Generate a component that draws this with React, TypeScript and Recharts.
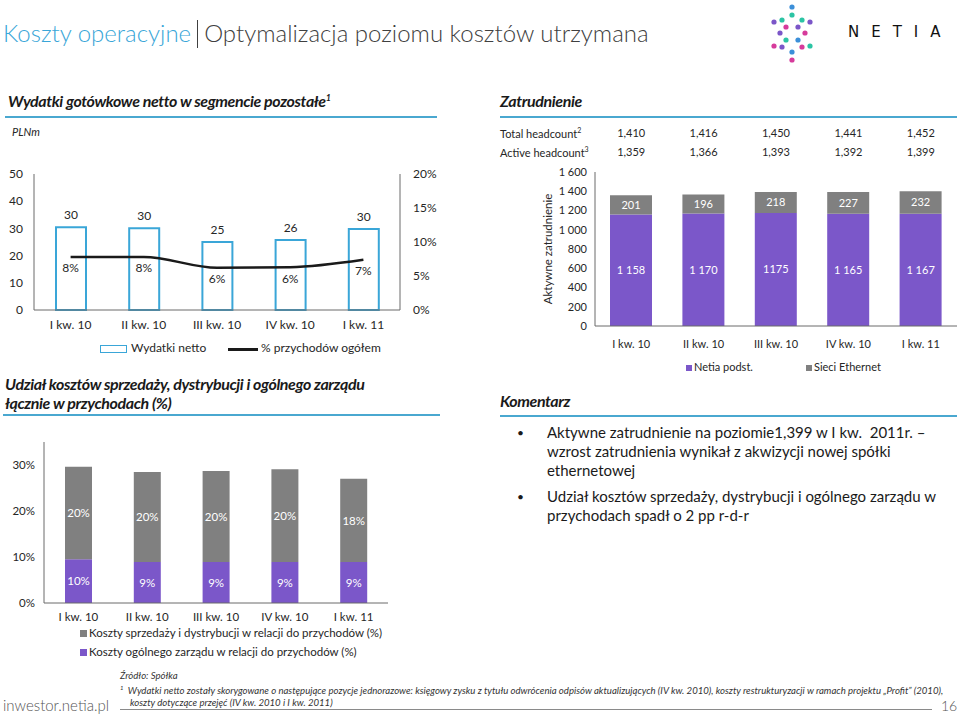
import React from 'react';
import { ComposedChart, BarChart, Bar, Line, XAxis, YAxis, LabelList, Legend } from 'recharts';

// ---------- data ----------
const quarters = ['I kw. 10', 'II kw. 10', 'III kw. 10', 'IV kw. 10', 'I kw. 11'];

const wydatkiNetto = [30.4, 30.1, 25.0, 25.7, 29.8];
const przychodyPct = [7.8, 7.8, 6.2, 6.3, 7.4];
const wydatkiTicks = [0, 10, 20, 30, 40, 50];
const pctTicks = [0, 5, 10, 15, 20];

const netiaPodst = [1158, 1170, 1175, 1165, 1167];
const netiaLabels = ['1 158', '1 170', '1175', '1 165', '1 167'];
const sieciEthernet = [201, 196, 218, 227, 232];
const totalHeadcount = [1410, 1416, 1450, 1441, 1452];
const activeHeadcount = [1359, 1366, 1393, 1392, 1399];
const headcountTicks = [0, 200, 400, 600, 800, 1000, 1200, 1400, 1600];

const kosztySprzedazy = [20.1, 19.6, 19.8, 20.2, 18.1];
const kosztyZarzadu = [9.5, 8.9, 8.9, 8.9, 8.9];
const udzialTicks = [0, 10, 20, 30];

const wydatkiData = quarters.map((q, i) => ({ q, netto: wydatkiNetto[i], pct: przychodyPct[i] }));
const zatrudnienieData = quarters.map((q, i) => ({
  q,
  netia: netiaPodst[i],
  netiaLabel: netiaLabels[i],
  ethernet: sieciEthernet[i],
  total: totalHeadcount[i],
  active: activeHeadcount[i],
}));
const udzialData = quarters.map((q, i) => ({ q, sprzedaz: kosztySprzedazy[i], zarzad: kosztyZarzadu[i] }));

// ---------- styles ----------
const FONT = 'Lato, "Noto Sans", sans-serif';
const BLUE = '#3aa6d8';
const PURPLE = '#7b57c9';
const GRAY = '#808080';
const TXT = '#262626';
const AXIS = '#6a6a6a';

const fmtSpace = (v: number) =>
  v >= 1000 ? `${Math.floor(v / 1000)} ${String(v % 1000).padStart(3, '0')}` : String(v);
const fmtComma = (v: number) => v.toLocaleString('en-US');

const headerStyle: React.CSSProperties = {
  position: 'absolute',
  fontFamily: FONT,
  fontWeight: 700,
  fontStyle: 'italic',
  fontSize: 16,
  letterSpacing: -0.4,
  color: '#1a1a1a',
  whiteSpace: 'nowrap',
};
const ruleStyle = (left: number, top: number, width: number): React.CSSProperties => ({
  position: 'absolute',
  left,
  top,
  width,
  height: 2,
  background: '#4aa8d0',
});

const logoDots: [number, number, string][] = [
  [792, 7, '#3b8fd9'], [792, 15, '#2bc4a4'], [782, 20, '#2bc4a4'], [802, 20, '#2bc4a4'],
  [774, 22, '#7b56c8'], [810, 22, '#7b56c8'], [786, 27, '#d63b9b'], [798, 27, '#7b56c8'],
  [780, 33, '#7b56c8'], [805, 33, '#d63b9b'], [786, 40, '#2bc4a4'], [798, 40, '#3b8fd9'],
  [774, 46, '#d63b9b'], [810, 46, '#2bc4a4'], [782, 47, '#7b56c8'], [802, 47, '#d63b9b'],
  [792, 52, '#3b8fd9'], [792, 60, '#d63b9b'],
];

// ---------- legends ----------
const WydatkiLegend = () => (
  <div style={{ position: 'relative', height: 22, fontFamily: FONT, fontSize: 12, color: TXT }}>
    <div style={{ position: 'absolute', left: 100, top: 7, width: 25, height: 6, border: `1.5px solid ${BLUE}` }} />
    <div style={{ position: 'absolute', left: 131, top: 2, whiteSpace: 'nowrap' }}>Wydatki netto</div>
    <div style={{ position: 'absolute', left: 228, top: 10, width: 30, height: 2.5, background: '#1a1a1a' }} />
    <div style={{ position: 'absolute', left: 261, top: 2, whiteSpace: 'nowrap' }}>% przychodów ogółem</div>
  </div>
);

const ZatrudnienieLegend = () => (
  <div style={{ position: 'relative', height: 26, fontFamily: FONT, fontSize: 11, color: TXT }}>
    <div style={{ position: 'absolute', left: 196, top: 9, width: 6, height: 6, background: PURPLE }} />
    <div style={{ position: 'absolute', left: 204, top: 4, whiteSpace: 'nowrap' }}>Netia podst.</div>
    <div style={{ position: 'absolute', left: 316, top: 9, width: 6, height: 6, background: GRAY }} />
    <div style={{ position: 'absolute', left: 324, top: 4, whiteSpace: 'nowrap' }}>Sieci Ethernet</div>
  </div>
);

const UdzialLegend = () => (
  <div style={{ position: 'relative', height: 38, fontFamily: FONT, fontSize: 11.5, color: TXT }}>
    <div style={{ position: 'absolute', left: 80, top: 3, width: 7, height: 7, background: GRAY }} />
    <div style={{ position: 'absolute', left: 89, top: -1, whiteSpace: 'nowrap' }}>
      Koszty sprzedaży i dystrybucji w relacji do przychodów (%)
    </div>
    <div style={{ position: 'absolute', left: 80, top: 22, width: 7, height: 7, background: PURPLE }} />
    <div style={{ position: 'absolute', left: 89, top: 18, whiteSpace: 'nowrap' }}>
      Koszty ogólnego zarządu w relacji do przychodów (%)
    </div>
  </div>
);

export default function App() {
  return (
    <div style={{ position: 'absolute', left: 0, top: 0, width: 959, height: 714, background: '#fff', overflow: 'hidden', fontFamily: FONT }}>
      {/* Title */}
      <div style={{ position: 'absolute', left: 3, top: 18, fontSize: 24, fontWeight: 300, whiteSpace: 'nowrap', color: '#404040' }}>
        <span style={{ color: BLUE }}>Koszty operacyjne</span>
        <span style={{ display: 'inline-block', width: 1, height: 28, background: '#404040', margin: '0 6px', verticalAlign: -6 }} />
        <span>Optymalizacja poziomu kosztów utrzymana</span>
      </div>

      {/* Logo */}
      <svg style={{ position: 'absolute', left: 0, top: 0 }} width={959} height={70}>
        {logoDots.map(([x, y, c], i) => (
          <circle key={i} cx={x} cy={y} r={2.6} fill={c} />
        ))}
      </svg>
      <div style={{ position: 'absolute', left: 848, top: 23, fontSize: 15, letterSpacing: 12, color: '#111', whiteSpace: 'nowrap', fontFamily: '"DejaVu Sans", sans-serif' }}>
        NETIA
      </div>

      {/* Section headers */}
      <div style={{ ...headerStyle, left: 8, top: 91 }}>
        Wydatki gotówkowe netto w segmencie pozostałe<sup style={{ fontSize: 9 }}>1</sup>
      </div>
      <div style={ruleStyle(5, 116, 432)} />
      <div style={{ ...headerStyle, left: 500, top: 91 }}>Zatrudnienie</div>
      <div style={ruleStyle(500, 116, 457)} />
      <div style={{ position: 'absolute', left: 12, top: 125, fontSize: 11, fontStyle: 'italic', color: TXT }}>PLNm</div>

      <div style={{ ...headerStyle, left: 5, top: 374, lineHeight: '19px' }}>
        Udział kosztów sprzedaży, dystrybucji i ogólnego zarządu
        <br />
        łącznie w przychodach (%)
      </div>
      <div style={ruleStyle(3, 414, 437)} />
      <div style={{ ...headerStyle, left: 500, top: 391 }}>Komentarz</div>
      <div style={ruleStyle(500, 415, 457)} />

      {/* Headcount row labels */}
      <div style={{ position: 'absolute', left: 500, top: 126, fontSize: 11, color: TXT, whiteSpace: 'nowrap' }}>
        Total headcount<sup style={{ fontSize: 7 }}>2</sup>
      </div>
      <div style={{ position: 'absolute', left: 500, top: 145, fontSize: 11, color: TXT, whiteSpace: 'nowrap' }}>
        Active headcount<sup style={{ fontSize: 7 }}>3</sup>
      </div>

      {/* Chart 1: Wydatki */}
      <div style={{ position: 'absolute', left: 0, top: 160 }}>
        <ComposedChart width={440} height={200} data={wydatkiData} margin={{ top: 14, right: 0, left: 0, bottom: 0 }}>
          <XAxis dataKey="q" stroke={AXIS} tickLine={false} height={28} tickMargin={4} interval={0}
            tick={{ fontSize: 12, fill: TXT, fontFamily: FONT }} />
          <YAxis yAxisId="l" domain={[0, 50]} ticks={wydatkiTicks} width={34} stroke={AXIS} tickLine={false}
            tickMargin={5} tick={{ fontSize: 12, fill: TXT, fontFamily: FONT }} />
          <YAxis yAxisId="r" orientation="right" domain={[0, 20]} ticks={pctTicks} width={40} stroke={AXIS}
            tickLine={false} tickMargin={7} tickFormatter={(v: number) => `${v}%`}
            tick={{ fontSize: 12, fill: TXT, fontFamily: FONT }} />
          <Legend verticalAlign="bottom" height={22} content={() => <WydatkiLegend />} />
          <Bar yAxisId="l" dataKey="netto" barSize={30} fill="#ffffff" stroke={BLUE} strokeWidth={2} isAnimationActive={false}>
            <LabelList dataKey="netto" position="top" offset={8} formatter={(v: any) => Math.round(Number(v))}
              style={{ fontSize: 12, fill: TXT, fontFamily: FONT }} />
          </Bar>
          <Line yAxisId="r" dataKey="pct" type="monotone" stroke="#1a1a1a" strokeWidth={2.5} dot={false} isAnimationActive={false}>
            <LabelList dataKey="pct" position="bottom" offset={7} formatter={(v: any) => `${Math.round(Number(v))}%`}
              style={{ fontSize: 12, fill: TXT, fontFamily: FONT }} />
          </Line>
        </ComposedChart>
      </div>

      {/* Chart 2: Zatrudnienie */}
      <div style={{ position: 'absolute', left: 490, top: 120 }}>
        <BarChart width={469} height={262} data={zatrudnienieData} margin={{ top: 12, right: 2, left: 0, bottom: 0 }}>
          <XAxis xAxisId="main" dataKey="q" stroke={AXIS} tickLine={false} height={30} tickMargin={8} interval={0}
            tick={{ fontSize: 11, fill: TXT, fontFamily: FONT }} />
          <XAxis xAxisId="active" orientation="top" dataKey="active" axisLine={false} tickLine={false} tickSize={0}
            height={20} tickMargin={16} interval={0} tickFormatter={fmtComma}
            tick={{ fontSize: 11, fill: TXT, fontFamily: FONT }} />
          <XAxis xAxisId="total" orientation="top" dataKey="total" axisLine={false} tickLine={false} tickSize={0}
            height={20} tickMargin={15} interval={0} tickFormatter={fmtComma}
            tick={{ fontSize: 11, fill: TXT, fontFamily: FONT }} />
          <YAxis domain={[0, 1600]} ticks={headcountTicks} width={105} stroke={AXIS} tickLine={false} tickMargin={2}
            tickFormatter={fmtSpace} tick={{ fontSize: 11, fill: TXT, fontFamily: FONT }}
            label={{ value: 'Aktywne zatrudnienie', angle: -90, position: 'insideLeft', offset: 58,
              style: { textAnchor: 'middle', fontSize: 11.5, fill: TXT, fontFamily: FONT } }} />
          <Legend verticalAlign="bottom" height={26} content={() => <ZatrudnienieLegend />} />
          <Bar xAxisId="main" dataKey="netia" stackId="a" fill={PURPLE} barSize={42} isAnimationActive={false}>
            <LabelList dataKey="netiaLabel" position="center" style={{ fontSize: 11, fill: '#ffffff', fontFamily: FONT }} />
          </Bar>
          <Bar xAxisId="main" dataKey="ethernet" stackId="a" fill={GRAY} barSize={42} isAnimationActive={false}>
            <LabelList dataKey="ethernet" position="center" style={{ fontSize: 11, fill: '#ffffff', fontFamily: FONT }} />
          </Bar>
        </BarChart>
      </div>

      {/* Chart 3: Udział */}
      <div style={{ position: 'absolute', left: 0, top: 430 }}>
        <BarChart width={400} height={235} data={udzialData} margin={{ top: 12, right: 12, left: 0, bottom: 0 }}>
          <XAxis dataKey="q" stroke={AXIS} tickLine={false} height={24} tickMargin={4} interval={0}
            tick={{ fontSize: 11.5, fill: TXT, fontFamily: FONT }} />
          <YAxis domain={[0, 35]} ticks={udzialTicks} width={44} stroke={AXIS} tickLine={false} tickMargin={3}
            tickFormatter={(v: number) => `${v}%`} tick={{ fontSize: 11.5, fill: TXT, fontFamily: FONT }} />
          <Legend verticalAlign="bottom" height={38} content={() => <UdzialLegend />} />
          <Bar dataKey="zarzad" stackId="a" fill={PURPLE} barSize={27} isAnimationActive={false}>
            <LabelList dataKey="zarzad" position="center" formatter={(v: any) => `${Math.round(Number(v))}%`}
              style={{ fontSize: 11.5, fill: '#ffffff', fontFamily: FONT }} />
          </Bar>
          <Bar dataKey="sprzedaz" stackId="a" fill={GRAY} barSize={27} isAnimationActive={false}>
            <LabelList dataKey="sprzedaz" position="center" formatter={(v: any) => `${Math.round(Number(v))}%`}
              style={{ fontSize: 11.5, fill: '#ffffff', fontFamily: FONT }} />
          </Bar>
        </BarChart>
      </div>

      {/* Komentarz bullets */}
      <div style={{ position: 'absolute', left: 515, top: 423, fontSize: 15, lineHeight: '19px', color: '#1a1a1a', whiteSpace: 'nowrap' }}>
        <div style={{ position: 'relative', paddingLeft: 32 }}>
          <span style={{ position: 'absolute', left: 2, top: 0, fontSize: 12 }}>•</span>
          Aktywne zatrudnienie na poziomie1,399 w I kw.&nbsp; 2011r. –<br />
          wzrost zatrudnienia wynikał z akwizycji nowej spółki<br />
          ethernetowej
        </div>
        <div style={{ position: 'relative', paddingLeft: 32, marginTop: 7 }}>
          <span style={{ position: 'absolute', left: 2, top: 0, fontSize: 12 }}>•</span>
          Udział kosztów sprzedaży, dystrybucji i ogólnego zarządu w<br />
          przychodach spadł o 2 pp r-d-r
        </div>
      </div>

      {/* Footer */}
      <div style={{ position: 'absolute', left: 120, top: 670, fontSize: 9.6, fontStyle: 'italic', color: '#333', whiteSpace: 'nowrap', lineHeight: '12px' }}>
        <div>Źródło: Spółka</div>
        <div><sup style={{ fontSize: 6 }}>1</sup>&nbsp; Wydatki netto zostały skorygowane o następujące pozycje jednorazowe: księgowy zysku z tytułu odwrócenia odpisów aktualizujących (IV kw. 2010), koszty restrukturyzacji w ramach projektu „Profit” (2010),</div>
        <div style={{ paddingLeft: 10 }}>koszty dotyczące przejęć (IV kw. 2010 i I kw. 2011)</div>
      </div>
      <div style={{ position: 'absolute', left: 120, top: 709, width: 812, height: 1, background: '#8a8a8a' }} />
      <div style={{ position: 'absolute', left: 3, top: 696, fontSize: 15, fontWeight: 300, color: '#555' }}>inwestor.netia.pl</div>
      <div style={{ position: 'absolute', left: 941, top: 697, fontSize: 14, fontWeight: 300, color: '#555' }}>16</div>
    </div>
  );
}
